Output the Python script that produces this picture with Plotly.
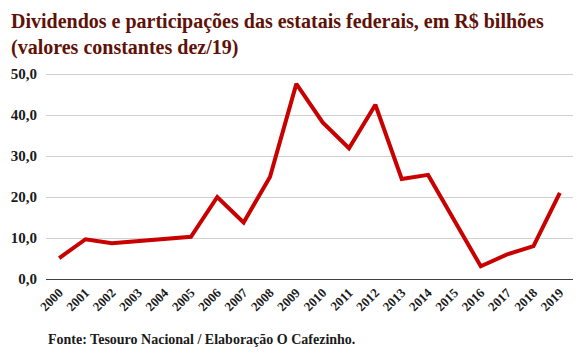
import plotly.graph_objects as go

years = [str(y) for y in range(2000, 2020)]
values = [5.1, 9.7, 8.7, 9.3, 9.7, 10.3, 20.0, 13.8, 24.9, 47.6,
          38.2, 31.9, 42.5, 24.4, 25.4, 14.3, 3.1, 6.0, 8.0, 21.0]
y_ticks = [0, 10, 20, 30, 40, 50]
y_labels = ["0,0", "10,0", "20,0", "30,0", "40,0", "50,0"]

title_text = "Dividendos e participações das estatais federais, em R$ bilhões<br>(valores constantes dez/19)"
source_text = "Fonte: Tesouro Nacional / Elaboração O Cafezinho."

fig = go.Figure()
fig.add_trace(go.Scatter(
    x=years, y=values, mode="lines",
    line=dict(color="#c80000", width=4),
    hoverinfo="x+y",
))

font_family = "Liberation Serif"

W, H = 583, 356
ml, mr, mt, mb = 46, 10, 72, 77
ph = H - mt - mb
pw = W - ml - mr

fig.update_layout(
    width=W, height=H,
    margin=dict(l=ml, r=mr, t=mt, b=mb),
    paper_bgcolor="white", plot_bgcolor="white",
    showlegend=False,
    font=dict(family=font_family, color="#1a1a1a"),
    xaxis=dict(
        type="category",
        range=[-0.5, len(years) - 0.5],
        tickvals=years,
        ticktext=["<b>" + y + "</b>" for y in years],
        tickangle=-45,
        tickfont=dict(family=font_family, size=13, color="#1a1a1a"),
        showgrid=False,
        showline=True, linecolor="#404040", linewidth=1,
        ticks="", ticklen=0,
    ),
    yaxis=dict(
        range=[0, 50.5],
        tickvals=y_ticks, ticktext=["<b>" + s + "</b>" for s in y_labels],
        tickfont=dict(family=font_family, size=15, color="#1a1a1a"),
        showgrid=True, gridcolor="#d0d0d0", gridwidth=1,
        zeroline=False, showline=False,
        ticks="", ticklabelstandoff=8,
    ),
    annotations=[
        dict(
            text="<b>" + title_text + "</b>",
            xref="paper", yref="paper",
            x=(9 - ml) / pw, y=(H - mb - 8) / ph,
            xanchor="left", yanchor="top", align="left", showarrow=False,
            font=dict(family=font_family, size=20, color="#5e1208"),
        ),
        dict(
            text="<b>" + source_text + "</b>",
            xref="paper", yref="paper",
            x=0, y=(H - mb - 330) / ph,
            xanchor="left", yanchor="top", showarrow=False,
            font=dict(family=font_family, size=14, color="#1a1a1a"),
        ),
    ],
)

fig.write_html(
    "out.html",
    config={"displayModeBar": False},
    post_script="document.body.style.margin='0';document.body.style.overflow='hidden';",
)
